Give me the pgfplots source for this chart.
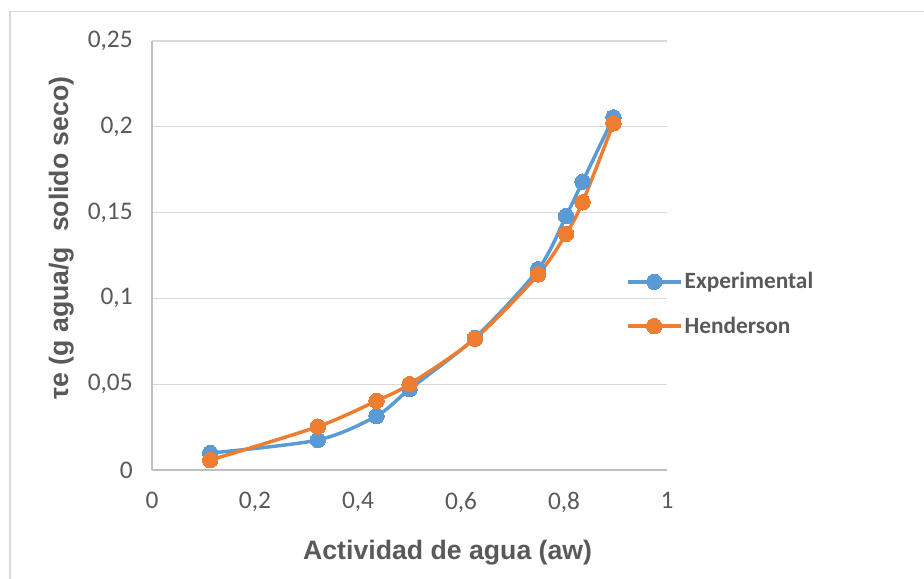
\documentclass[border=0pt]{standalone}
\usepackage{pgfplots}
\pgfplotsset{compat=1.18}
\usepackage{fontspec}
\setmainfont{Carlito}
\newfontfamily\arialfont{Liberation Sans}
\definecolor{expblue}{HTML}{5B9BD5}
\definecolor{henorange}{HTML}{ED7D31}
\definecolor{txtgray}{HTML}{595959}
\definecolor{gridgray}{HTML}{D9D9D9}
\definecolor{axgray}{HTML}{BFBFBF}
\begin{document}
\begin{tikzpicture}
% page frame: 924x578 px at 0.75pt/px, origin at plot corner
\useasboundingbox (-114pt,-81pt) rectangle (579pt,352.5pt);
\draw[gridgray, line width=1pt] (-106.5pt,-90pt) -- (-106.5pt,343.9pt) -- (600pt,343.9pt);
\begin{axis}[
    at={(0,0)}, anchor=south west,
    scale only axis,
    width=386.25pt, height=321.75pt,
    xmin=0, xmax=1, ymin=0, ymax=0.25,
    xtick={0,0.2,0.4,0.6,0.8,1},
    ytick={0,0.05,0.1,0.15,0.2,0.25},
    axis lines*=left,
    axis line style={axgray, line width=1pt, -},
    major tick length=0pt,
    ymajorgrids,
    grid style={gridgray, line width=1pt},
    tick label style={font=\fontsize{19}{22}\selectfont, text=txtgray},
    /pgf/number format/.cd, use comma, assume math mode=true, fixed,
    /pgfplots/.cd,
    yticklabel style={xshift=-11pt},
    xticklabel style={yshift=-13pt},
    xlabel={Actividad de agua (aw)},
    ylabel={τe (g agua/g\ \ solido seco)},
    label style={font=\arialfont\bfseries\fontsize{20}{24}\selectfont, text=txtgray},
    xlabel style={at={(axis description cs:0.574,0)}, anchor=center, yshift=-62pt},
    ylabel style={at={(axis description cs:0,0.541)}, anchor=center, yshift=68pt},
    legend cell align=left,
    legend style={at={(axis description cs:0.921,0.387)}, anchor=west, draw=none, fill=none,
        inner sep=0pt, row sep=15.5pt,
        nodes={font=\bfseries\fontsize{17.5}{20}\selectfont, text=txtgray, inner sep=2pt}},
    legend image code/.code={
        \draw[mark repeat=2, mark phase=2] plot coordinates {(0pt,0pt) (19.5pt,0pt) (39pt,0pt)};
    },
    clip=false,
]
\addplot[expblue, line width=2.6pt, smooth, tension=0.5, mark=*, mark size=5.8pt,
    mark options={solid, fill=expblue, draw=expblue, line width=0pt}]
    coordinates {
    (0.113,0.0099) (0.322,0.0175) (0.436,0.0315) (0.500,0.0471) (0.627,0.0770)
    (0.750,0.1170) (0.804,0.1480) (0.836,0.1680) (0.896,0.2055)
    };
\addlegendentry{Experimental}
\addplot[henorange, line width=2.6pt, smooth, tension=0.5, mark=*, mark size=5.8pt,
    mark options={solid, fill=henorange, draw=henorange, line width=0pt}]
    coordinates {
    (0.113,0.0058) (0.322,0.0253) (0.436,0.0403) (0.500,0.0500) (0.627,0.0765)
    (0.750,0.1140) (0.804,0.1376) (0.836,0.1560) (0.896,0.2020)
    };
\addlegendentry{Henderson}
\end{axis}
\end{tikzpicture}
\end{document}
